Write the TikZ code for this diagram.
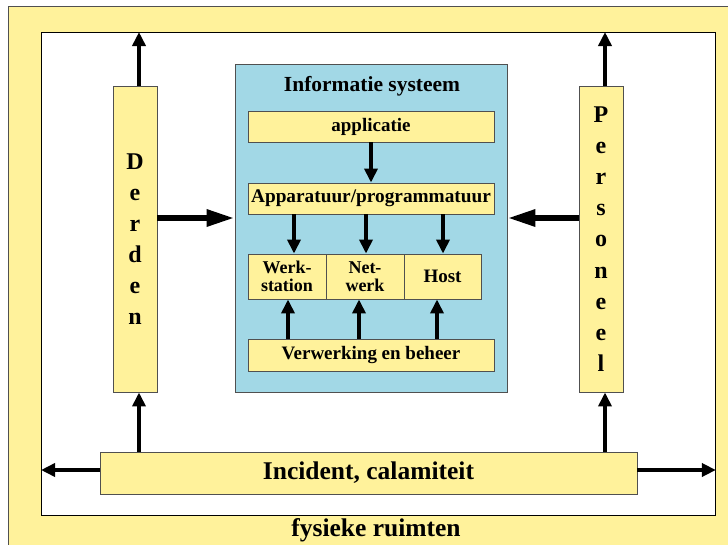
\documentclass[tikz,border=0pt]{standalone}
\usepackage{fontspec}
\setmainfont{Liberation Serif}
\usetikzlibrary{arrows.meta}
\definecolor{ylw}{RGB}{255,242,155}
\definecolor{sky}{RGB}{162,216,230}
\definecolor{bord}{RGB}{80,80,80}
\tikzset{
  box/.style={draw=bord,line width=0.9pt,fill=ylw,inner sep=0pt,font=\bfseries\fontsize{19}{20}\selectfont,align=center},
  twoline/.style={font=\bfseries\fontsize{18}{18.5}\selectfont},
  thin/.style={line width=4pt,-{Triangle[length=14pt,width=13pt]}},
  thick/.style={line width=6pt,-{Triangle[length=28pt,width=16pt]}},
}
\begin{document}
\begin{tikzpicture}[x=1pt,y=-1pt]
\useasboundingbox (0,0) rectangle (728,544);
\begin{scope}
\clip (0,0) rectangle (728,544);
\node[draw=bord,line width=0.9pt,fill=ylw,minimum width=740pt,minimum height=560pt,inner sep=0pt,anchor=north west] (outer) at (8,6) {};
\end{scope}
\node[draw=black,line width=0.9pt,fill=white,minimum width=674pt,minimum height=483pt,inner sep=0pt,anchor=north west] (inner) at (41,32) {};
\node[font=\bfseries\fontsize{25.5}{26}\selectfont] (fys) at (376,530) {fysieke ruimten};
% info system
\node[draw=bord,line width=0.9pt,fill=sky,minimum width=272pt,minimum height=328pt,inner sep=0pt] (info) at (371,228) {};
\node[font=\bfseries\fontsize{21.5}{22}\selectfont] (title) at (372,86) {Informatie systeem};
\node[box,minimum width=246pt,minimum height=31pt] (app) at (371,126.5) {applicatie};
\node[box,minimum width=246pt,minimum height=31pt,font=\bfseries\fontsize{19.3}{20}\selectfont] (appa) at (371,198.5) {Apparatuur/programmatuur};
\node[box,twoline,minimum width=78pt,minimum height=45pt] (werk) at (287,276.5) {Werk-\\station};
\node[box,twoline,minimum width=78pt,minimum height=45pt] (net) at (365,276.5) {Net-\\werk};
\node[box,minimum width=77pt,minimum height=45pt] (host) at (442.5,276.5) {Host};
\node[box,minimum width=246pt,minimum height=32pt] (verw) at (371,355) {Verwerking en beheer};
% side boxes
\node[box,minimum width=44pt,minimum height=306pt,font=\bfseries\fontsize{24}{31}\selectfont] (derden) at (135,239) {D\\e\\r\\d\\e\\n};
\node[box,minimum width=44pt,minimum height=306pt,font=\bfseries\fontsize{24}{31.2}\selectfont] (pers) at (601,239) {P\\e\\r\\s\\o\\n\\e\\e\\l};
\node[box,minimum width=537pt,minimum height=42pt,font=\bfseries\fontsize{25.5}{26}\selectfont] (inc) at (368.5,473) {Incident, calamiteit};
% arrows inside info
\draw[thin] (app.south) -- (appa.north);
\draw[thin] (appa.south -| 294,0) -- (werk.north -| 294,0);
\draw[thin] (appa.south -| 366,0) -- (net.north -| 366,0);
\draw[thin] (appa.south -| 443,0) -- (host.north -| 443,0);
\draw[thin] (verw.north -| 288,0) -- (werk.south -| 288,0);
\draw[thin] (verw.north -| 359,0) -- (net.south -| 359,0);
\draw[thin] (verw.north -| 437,0) -- (host.south -| 437,0);
% side arrows
\draw[thick] (derden.east |- 0,218) -- (info.west |- 0,218);
\draw[thick] (pers.west |- 0,218) -- (info.east |- 0,218);
\draw[thin] (derden.north -| 139,0) -- (inner.north -| 139,0);
\draw[thin] (pers.north -| 605,0) -- (inner.north -| 605,0);
\draw[thin] (inc.north -| 139,0) -- (derden.south -| 139,0);
\draw[thin] (inc.north -| 605,0) -- (pers.south -| 605,0);
\draw[thin] (inc.west |- 0,470) -- (inner.west |- 0,470);
\draw[thin] (inc.east |- 0,470) -- (inner.east |- 0,470);
\end{tikzpicture}
\end{document}
